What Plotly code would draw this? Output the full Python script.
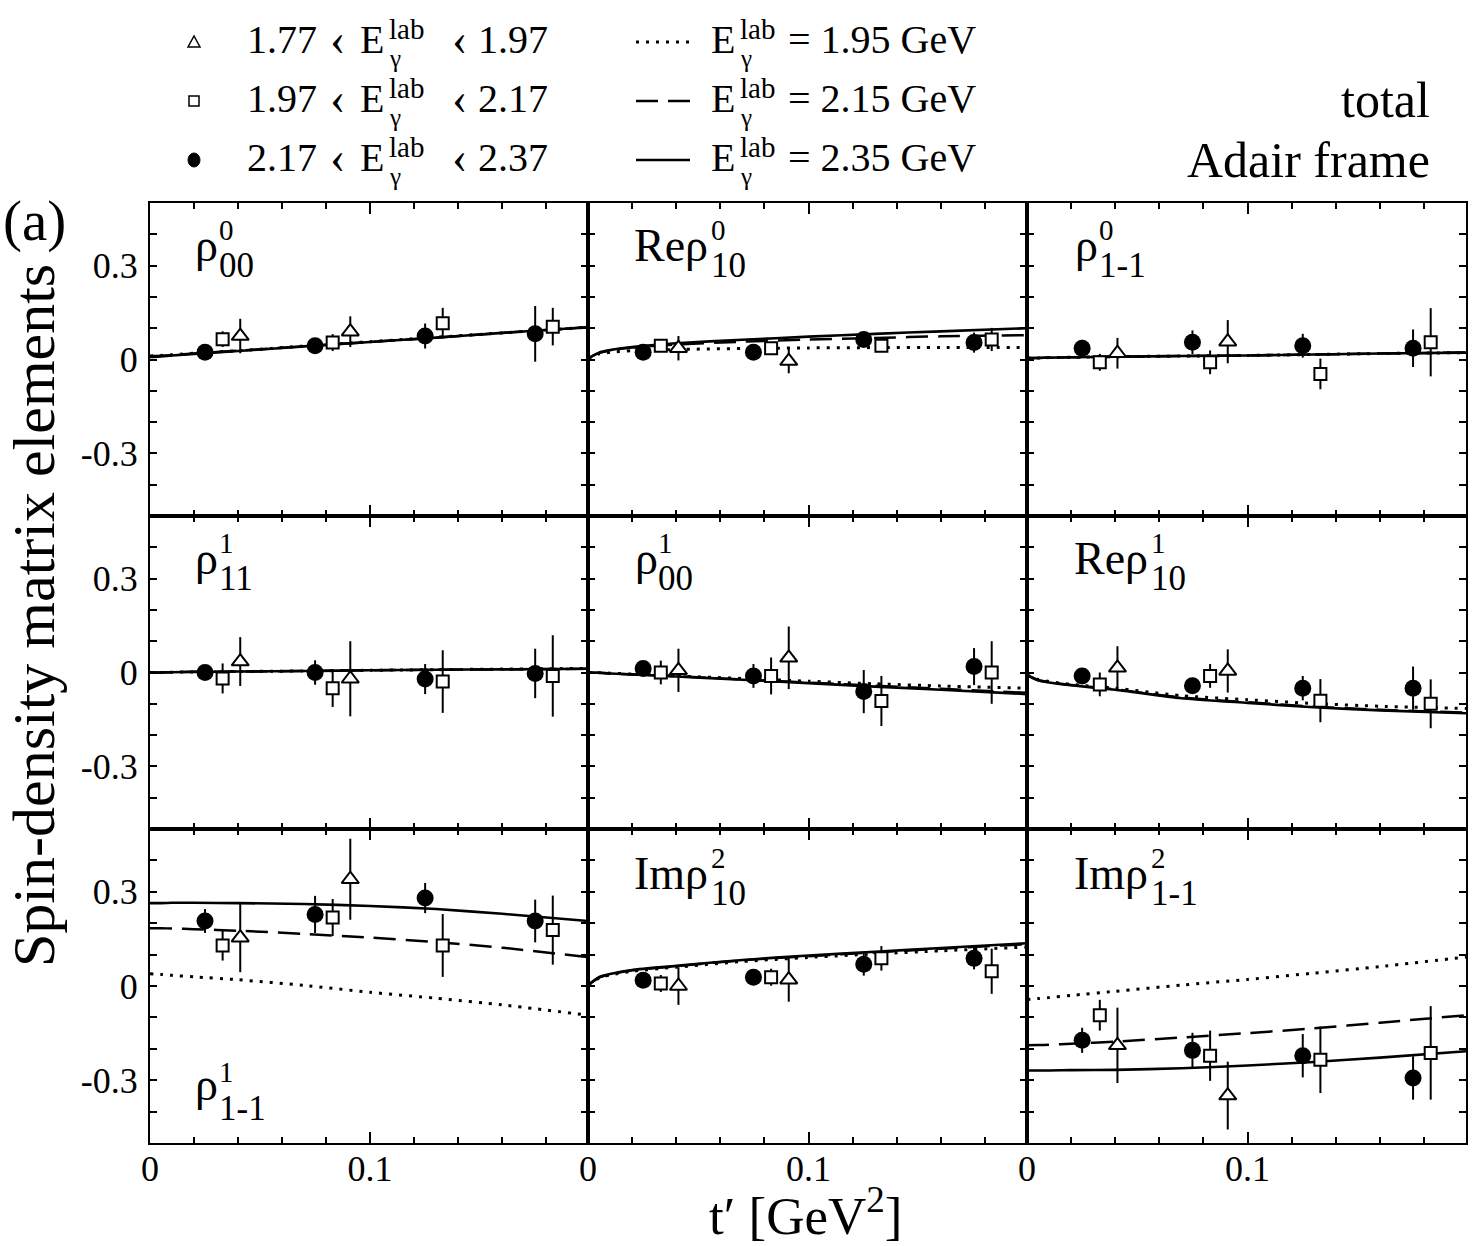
import plotly.graph_objects as go

W, H = 1473, 1246
SERIF = "Liberation Serif"

# ---------------- data ----------------
t_circle = [0.025, 0.075, 0.125, 0.175]      # 2.17 < E < 2.37
t_square = [0.033, 0.083, 0.133, 0.183]      # 1.97 < E < 2.17
t_triangle = [0.041, 0.091]                  # 1.77 < E < 1.97
t_curve = [0.0, 0.005, 0.01, 0.02, 0.04, 0.07, 0.10, 0.13, 0.16, 0.199]

# panel 1: rho^0_00
p1_circle = [0.023, 0.044, 0.075, 0.082]
p1_circle_err = [0.010, 0.012, 0.040, 0.089]
p1_square = [0.065, 0.054, 0.116, 0.105]
p1_square_err = [0.025, 0.027, 0.049, 0.060]
p1_tri = [0.075, 0.089]
p1_tri_err = [0.055, 0.049]
p1_solid = [0.008, 0.010, 0.013, 0.018, 0.027, 0.042, 0.056, 0.070, 0.085, 0.103]
p1_dashed = [0.010, 0.012, 0.014, 0.019, 0.028, 0.042, 0.056, 0.070, 0.085, 0.103]
p1_dotted = [0.011, 0.013, 0.015, 0.020, 0.028, 0.043, 0.057, 0.071, 0.085, 0.103]

# panel 2: Re rho^0_10
p2_circle = [0.023, 0.023, 0.064, 0.054]
p2_circle_err = [0.008, 0.008, 0.015, 0.032]
p2_square = [0.044, 0.036, 0.044, 0.064]
p2_square_err = [0.012, 0.015, 0.015, 0.037]
p2_tri = [0.036, -0.005]
p2_tri_err = [0.039, 0.039]
p2_solid = [0.003, 0.022, 0.030, 0.040, 0.052, 0.063, 0.073, 0.082, 0.090, 0.100]
p2_dashed = [0.003, 0.021, 0.029, 0.038, 0.048, 0.057, 0.064, 0.069, 0.074, 0.078]
p2_dotted = [0.003, 0.018, 0.023, 0.028, 0.032, 0.035, 0.037, 0.038, 0.038, 0.038]

# panel 3: rho^0_1-1
p3_circle = [0.036, 0.055, 0.044, 0.036]
p3_circle_err = [0.027, 0.038, 0.038, 0.060]
p3_square = [-0.009, -0.009, -0.046, 0.055]
p3_square_err = [0.027, 0.038, 0.049, 0.109]
p3_tri = [0.020, 0.057]
p3_tri_err = [0.049, 0.069]
p3_solid = [0.005, 0.005, 0.006, 0.007, 0.009, 0.011, 0.013, 0.016, 0.019, 0.022]
p3_dashed = [0.005, 0.005, 0.006, 0.007, 0.009, 0.011, 0.013, 0.016, 0.019, 0.022]
p3_dotted = [0.005, 0.005, 0.006, 0.007, 0.009, 0.011, 0.013, 0.016, 0.019, 0.022]

# panel 4: rho^1_11
p4_circle = [0.0, 0.0, -0.021, -0.003]
p4_circle_err = [0.020, 0.039, 0.048, 0.079]
p4_square = [-0.019, -0.050, -0.029, -0.011]
p4_square_err = [0.048, 0.060, 0.100, 0.130]
p4_tri = [0.035, -0.020]
p4_tri_err = [0.078, 0.120]
p4_solid = [0.000, 0.000, 0.001, 0.002, 0.003, 0.005, 0.007, 0.009, 0.010, 0.012]
p4_dashed = [0.000, 0.000, 0.001, 0.002, 0.003, 0.005, 0.007, 0.009, 0.010, 0.012]
p4_dotted = [0.000, 0.000, 0.001, 0.002, 0.003, 0.005, 0.007, 0.009, 0.011, 0.013]

# panel 5: rho^1_00
p5_circle = [0.013, -0.011, -0.061, 0.019]
p5_circle_err = [0.010, 0.038, 0.069, 0.059]
p5_square = [0.0, -0.011, -0.091, 0.0]
p5_square_err = [0.038, 0.059, 0.080, 0.100]
p5_tri = [0.007, 0.047]
p5_tri_err = [0.069, 0.100]
p5_solid = [0.0, -0.001, -0.003, -0.006, -0.013, -0.023, -0.034, -0.045, -0.055, -0.069]
p5_dashed = [0.0, -0.001, -0.003, -0.006, -0.012, -0.022, -0.032, -0.042, -0.052, -0.065]
p5_dotted = [0.0, -0.001, -0.002, -0.005, -0.011, -0.019, -0.028, -0.036, -0.043, -0.050]

# panel 6: Re rho^1_10
p6_circle = [-0.011, -0.042, -0.050, -0.050]
p6_circle_err = [0.012, 0.020, 0.039, 0.069]
p6_square = [-0.038, -0.011, -0.090, -0.100]
p6_square_err = [0.038, 0.038, 0.069, 0.078]
p6_tri = [0.015, 0.005]
p6_tri_err = [0.069, 0.069]
p6_solid = [-0.008, -0.025, -0.032, -0.041, -0.055, -0.082, -0.097, -0.111, -0.121, -0.130]
p6_dashed = [-0.008, -0.024, -0.031, -0.040, -0.054, -0.080, -0.095, -0.109, -0.119, -0.128]
p6_dotted = [-0.008, -0.022, -0.029, -0.038, -0.050, -0.074, -0.087, -0.099, -0.108, -0.115]

# panel 7: rho^1_1-1
p7_circle = [0.207, 0.228, 0.280, 0.207]
p7_circle_err = [0.038, 0.059, 0.048, 0.068]
p7_square = [0.129, 0.218, 0.129, 0.178]
p7_square_err = [0.048, 0.059, 0.100, 0.110]
p7_tri = [0.154, 0.340]
p7_tri_err = [0.110, 0.129]
p7_solid = [0.264, 0.264, 0.265, 0.265, 0.264, 0.261, 0.255, 0.245, 0.230, 0.207]
p7_dashed = [0.184, 0.184, 0.183, 0.181, 0.176, 0.166, 0.154, 0.140, 0.122, 0.092]
p7_dotted = [0.039, 0.037, 0.034, 0.029, 0.020, 0.002, -0.020, -0.039, -0.060, -0.093]

# panel 8: Im rho^2_10
p8_circle = [0.018, 0.028, 0.069, 0.088]
p8_circle_err = [0.010, 0.015, 0.036, 0.035]
p8_square = [0.008, 0.028, 0.088, 0.047]
p8_square_err = [0.027, 0.027, 0.039, 0.072]
p8_tri = [0.0, 0.020]
p8_tri_err = [0.060, 0.070]
p8_solid = [0.003, 0.028, 0.038, 0.051, 0.064, 0.083, 0.097, 0.109, 0.121, 0.136]
p8_dashed = [0.003, 0.027, 0.037, 0.050, 0.063, 0.082, 0.095, 0.107, 0.119, 0.133]
p8_dotted = [0.003, 0.025, 0.035, 0.047, 0.060, 0.078, 0.091, 0.102, 0.112, 0.124]

# panel 9: Im rho^2_1-1
p9_circle = [-0.173, -0.205, -0.222, -0.293]
p9_circle_err = [0.040, 0.056, 0.069, 0.069]
p9_square = [-0.093, -0.222, -0.235, -0.213]
p9_square_err = [0.049, 0.080, 0.106, 0.149]
p9_tri = [-0.189, -0.349]
p9_tri_err = [0.120, 0.108]
p9_solid = [-0.269, -0.269, -0.269, -0.268, -0.267, -0.262, -0.253, -0.242, -0.228, -0.208]
p9_dashed = [-0.189, -0.188, -0.187, -0.184, -0.177, -0.164, -0.150, -0.135, -0.117, -0.093]
p9_dotted = [-0.043, -0.040, -0.037, -0.030, -0.017, 0.003, 0.021, 0.041, 0.062, 0.092]

y_tickvals = [-0.4, -0.3, -0.2, -0.1, 0.0, 0.1, 0.2, 0.3, 0.4]
y_ticktext = ["", "-0.3", "", "", "0", "", "", "0.3", ""]

legend_data = ["1.77", "1.97", "2.17", "2.37"]
legend_theory = ["1.95", "2.15", "2.35"]

panels = [
    (p1_circle, p1_circle_err, p1_square, p1_square_err, p1_tri, p1_tri_err, p1_solid, p1_dashed, p1_dotted),
    (p2_circle, p2_circle_err, p2_square, p2_square_err, p2_tri, p2_tri_err, p2_solid, p2_dashed, p2_dotted),
    (p3_circle, p3_circle_err, p3_square, p3_square_err, p3_tri, p3_tri_err, p3_solid, p3_dashed, p3_dotted),
    (p4_circle, p4_circle_err, p4_square, p4_square_err, p4_tri, p4_tri_err, p4_solid, p4_dashed, p4_dotted),
    (p5_circle, p5_circle_err, p5_square, p5_square_err, p5_tri, p5_tri_err, p5_solid, p5_dashed, p5_dotted),
    (p6_circle, p6_circle_err, p6_square, p6_square_err, p6_tri, p6_tri_err, p6_solid, p6_dashed, p6_dotted),
    (p7_circle, p7_circle_err, p7_square, p7_square_err, p7_tri, p7_tri_err, p7_solid, p7_dashed, p7_dotted),
    (p8_circle, p8_circle_err, p8_square, p8_square_err, p8_tri, p8_tri_err, p8_solid, p8_dashed, p8_dotted),
    (p9_circle, p9_circle_err, p9_square, p9_square_err, p9_tri, p9_tri_err, p9_solid, p9_dashed, p9_dotted),
]

# ---------------- layout geometry (pixels) ----------------
col_px = [150, 588, 1027, 1466]
row_px = [203, 516, 829, 1143]

def pxx(x):
    return x / W

def pxy(y):
    return 1 - y / H

fig = go.Figure()
layout = dict(
    width=W, height=H,
    margin=dict(l=0, r=0, t=0, b=0, pad=0),
    paper_bgcolor="white", plot_bgcolor="rgba(0,0,0,0)",
    showlegend=False,
    font=dict(family=SERIF, color="black"),
)

DOT = "3px,7px"
DASH = "22px,10px"

for i, (cy, ce, sy, se, ty, te, sol, das, dot) in enumerate(panels):
    r, c = divmod(i, 3)
    n = i + 1
    xa = "x" if n == 1 else f"x{n}"
    ya = "y" if n == 1 else f"y{n}"
    layout["xaxis" if n == 1 else f"xaxis{n}"] = dict(
        domain=[col_px[c] / W, col_px[c + 1] / W], anchor=ya, automargin=False,
        range=[0, 0.199], tickmode="linear", tick0=0, dtick=0.1,
        ticks="inside", ticklen=11, tickwidth=2, tickcolor="black",
        showline=True, linewidth=2, linecolor="black", mirror="allticks",
        showgrid=False, zeroline=False, showticklabels=(r == 2),
        tickfont=dict(family=SERIF, size=36, color="black"),
        ticklabelstandoff=-7,
        minor=dict(tick0=0, dtick=0.02, ticks="inside", ticklen=6, tickwidth=1.5,
                   tickcolor="black", showgrid=False),
    )
    layout["yaxis" if n == 1 else f"yaxis{n}"] = dict(
        domain=[1 - row_px[r + 1] / H, 1 - row_px[r] / H], anchor=xa, automargin=False,
        range=[-0.5, 0.5], tickmode="array", tickvals=y_tickvals, ticktext=y_ticktext,
        ticks="inside", ticklen=7, tickwidth=2, tickcolor="black",
        showline=True, linewidth=2, linecolor="black", mirror="allticks",
        showgrid=False, zeroline=False, showticklabels=(c == 0),
        tickfont=dict(family=SERIF, size=36, color="black"),
        ticklabelstandoff=3,
    )
    for vals, dash, wdt in ((dot, DOT, 3), (das, DASH, 2.5), (sol, "solid", 2.6)):
        fig.add_trace(go.Scatter(
            x=t_curve, y=vals, mode="lines", xaxis=xa, yaxis=ya,
            line=dict(color="black", width=wdt, dash=dash, shape="spline", smoothing=0.6),
            hoverinfo="skip"))
    fig.add_trace(go.Scatter(
        x=t_triangle, y=ty, mode="markers", xaxis=xa, yaxis=ya,
        error_y=dict(type="data", array=te, visible=True, thickness=2, width=0, color="black"),
        marker=dict(symbol="triangle-up", size=15, color="white", line=dict(color="black", width=2))))
    fig.add_trace(go.Scatter(
        x=t_square, y=sy, mode="markers", xaxis=xa, yaxis=ya,
        error_y=dict(type="data", array=se, visible=True, thickness=2, width=0, color="black"),
        marker=dict(symbol="square", size=12, color="white", line=dict(color="black", width=2))))
    fig.add_trace(go.Scatter(
        x=t_circle, y=cy, mode="markers", xaxis=xa, yaxis=ya,
        error_y=dict(type="data", array=ce, visible=True, thickness=2, width=0, color="black"),
        marker=dict(symbol="circle", size=17, color="black", line=dict(width=0))))

annotations = []
shapes = []

def text(t, x, y, size, xanchor="left", yanchor="middle", angle=0):
    annotations.append(dict(
        text=t, x=pxx(x), y=pxy(y), xref="paper", yref="paper", showarrow=False,
        xanchor=xanchor, yanchor=yanchor, textangle=angle, borderpad=0, borderwidth=0,
        font=dict(family=SERIF, size=size, color="black")))

def stacked(main, sup, sub, x, xs, base, main_size=46, sup_size=29, sub_size=35,
            sup_c=None, sub_c=None):
    text(main, x, base - 0.3375 * main_size, main_size)
    text(sup, xs, sup_c if sup_c is not None else base - 31, sup_size)
    text(sub, xs, sub_c if sub_c is not None else base + 4.5, sub_size)

# panel labels
b1, b2, b3 = 261, 574, 889
stacked("ρ", "0", "00", 195, 219, b1)
stacked("Reρ", "0", "10", 634, 711, b1)
stacked("ρ", "0", "1-1", 1075, 1099, b1)
stacked("ρ", "1", "11", 195, 219, b2)
stacked("ρ", "1", "00", 635, 658, b2)
stacked("Reρ", "1", "10", 1074, 1151, b2)
stacked("ρ", "1", "1-1", 195, 219, 1100, sup_c=1072, sub_c=1108)
stacked("Imρ", "2", "10", 634, 711, b3)
stacked("Imρ", "2", "1-1", 1074, 1151, b3)

# axis titles and other text
text("Spin-density matrix elements", 34, 616, 60, xanchor="center", angle=-90)
text("t′ [GeV<sup>2</sup>]", 806, 1212, 53, xanchor="center")
text("(a)", 3, 221, 57)
text("total", 1430, 100, 50, xanchor="right")
text("Adair frame", 1430, 160, 50, xanchor="right")

# custom legend
LS = 40
rows_base = [53, 112, 171]
for k, base in enumerate(rows_base):
    mid = base - 0.3375 * LS
    text(legend_data[k], 247, mid, LS)
    text("‹", 330, mid, 46)
    text("E", 360, mid, LS)
    text("lab", 389, base - 24, 29)
    text("γ", 389, base + 5.5, 25)
    text("‹", 452, mid, 46)
    text(legend_data[k + 1], 478, mid, LS)
    text("E", 711, mid, LS)
    text("lab", 740, base - 24, 29)
    text("γ", 740, base + 5.5, 25)
    text("= " + legend_theory[k] + " GeV", 788, mid, LS)

# legend symbols
cy_rows = [42, 101, 160]
tx, ty0 = 194, cy_rows[0]
shapes.append(dict(type="path", xref="paper", yref="paper",
                   path=f"M {pxx(tx-6)},{pxy(ty0+5)} L {pxx(tx+6)},{pxy(ty0+5)} L {pxx(tx)},{pxy(ty0-6)} Z",
                   line=dict(color="black", width=1.5), fillcolor="white"))
shapes.append(dict(type="rect", xref="paper", yref="paper",
                   x0=pxx(tx-5), x1=pxx(tx+5), y0=pxy(cy_rows[1]+5), y1=pxy(cy_rows[1]-5),
                   line=dict(color="black", width=1.5), fillcolor="white"))
shapes.append(dict(type="circle", xref="paper", yref="paper",
                   x0=pxx(tx-6), x1=pxx(tx+6), y0=pxy(cy_rows[2]+7), y1=pxy(cy_rows[2]-7),
                   line=dict(color="black", width=1), fillcolor="black"))
for yy, dash, wdt in ((cy_rows[0], DOT, 3), (cy_rows[1], DASH, 2.5), (cy_rows[2], "solid", 2.6)):
    shapes.append(dict(type="line", xref="paper", yref="paper",
                       x0=pxx(636), x1=pxx(690), y0=pxy(yy), y1=pxy(yy),
                       line=dict(color="black", width=wdt, dash=dash)))

layout["annotations"] = annotations
layout["shapes"] = shapes
fig.update_layout(**layout)
fig.write_html("out.html")
